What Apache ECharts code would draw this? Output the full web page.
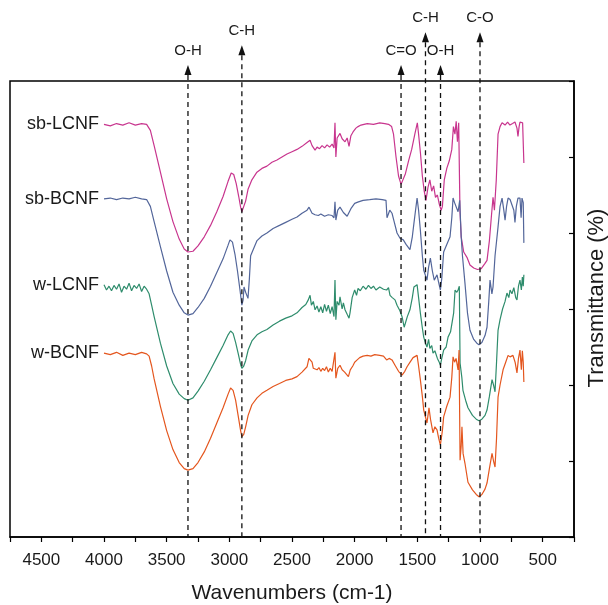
<!DOCTYPE html>
<html><head><meta charset="utf-8">
<script src="https://cdn.jsdelivr.net/npm/echarts@6/dist/echarts.min.js"></script>
<style>html,body{margin:0;padding:0;background:#fff}#c{width:608px;height:605px}</style>
</head><body><div id="c"></div>
<script>
// ---- data ----
const seriesNames = ['sb-LCNF', 'sb-BCNF', 'w-LCNF', 'w-BCNF'];
const seriesColors = ['#c8358e', '#53669a', '#2e8c6c', '#e4561e'];

const sbLCNF = [[4000,5.43],[3950,5.41],[3900,5.44],[3850,5.42],[3800,5.45],[3750,5.42],[3700,5.44],[3660,5.43],[3630,5.35],[3600,5.15],[3550,4.8],[3500,4.45],[3450,4.15],[3400,3.92],[3360,3.79],[3330,3.75],[3290,3.76],[3250,3.83],[3200,3.95],[3150,4.1],[3100,4.28],[3050,4.48],[3010,4.68],[2985,4.79],[2965,4.77],[2945,4.65],[2925,4.48],[2910,4.34],[2900,4.28],[2885,4.3],[2870,4.42],[2850,4.58],[2820,4.7],[2780,4.8],[2740,4.85],[2700,4.88],[2660,4.93],[2620,4.96],[2580,5.0],[2540,5.04],[2500,5.07],[2460,5.1],[2420,5.14],[2380,5.19],[2356,5.22],[2340,5.15],[2316,5.09],[2300,5.13],[2280,5.11],[2260,5.15],[2240,5.12],[2220,5.16],[2200,5.13],[2180,5.17],[2165,5.12],[2157,5.45],[2150,5.0],[2140,5.25],[2117,5.31],[2100,5.24],[2077,5.2],[2060,5.25],[2045,5.14],[2030,5.28],[2013,5.33],[1990,5.38],[1973,5.4],[1950,5.42],[1900,5.44],[1850,5.43],[1800,5.45],[1760,5.44],[1730,5.43],[1705,5.4],[1690,5.3],[1670,5.0],[1650,4.75],[1630,4.64],[1615,4.65],[1595,4.78],[1570,4.95],[1545,5.1],[1520,5.3],[1500,5.45],[1490,5.3],[1475,5.05],[1460,4.75],[1445,4.55],[1431,4.43],[1415,4.6],[1400,4.7],[1385,4.55],[1370,4.62],[1355,4.47],[1340,4.5],[1325,4.38],[1310,4.3],[1300,4.35],[1285,4.7],[1265,4.85],[1245,4.95],[1225,5.1],[1212,5.4],[1200,5.3],[1190,5.47],[1180,5.2],[1170,5.45],[1160,4.3],[1150,3.95],[1130,3.75],[1104,3.68],[1080,3.58],[1050,3.54],[1020,3.52],[1008,3.51],[990,3.53],[960,3.6],[944,3.64],[925,3.9],[910,4.2],[896,4.47],[885,4.3],[870,4.7],[856,5.3],[840,5.4],[824,5.45],[800,5.42],[780,5.46],[761,5.42],[740,5.44],[721,5.46],[705,5.38],[697,5.27],[688,5.4],[681,5.46],[670,5.44],[660,5.45],[650,4.92]];

const sbBCNF = [[4000,4.45],[3950,4.46],[3900,4.44],[3850,4.46],[3800,4.45],[3750,4.47],[3700,4.45],[3660,4.44],[3630,4.35],[3600,4.15],[3550,3.82],[3500,3.5],[3450,3.22],[3400,3.05],[3360,2.95],[3330,2.92],[3290,2.94],[3250,3.02],[3200,3.14],[3150,3.3],[3100,3.48],[3050,3.66],[3010,3.84],[2995,3.91],[2975,3.88],[2955,3.72],[2935,3.5],[2915,3.25],[2900,3.05],[2890,3.12],[2883,3.29],[2870,3.22],[2851,3.14],[2840,3.4],[2830,3.7],[2800,3.82],[2779,3.9],[2740,3.96],[2700,4.0],[2651,4.06],[2600,4.1],[2550,4.14],[2500,4.18],[2460,4.21],[2420,4.26],[2380,4.3],[2364,4.34],[2340,4.26],[2316,4.24],[2290,4.23],[2270,4.25],[2240,4.22],[2210,4.24],[2180,4.23],[2165,4.2],[2157,4.41],[2150,4.17],[2135,4.3],[2117,4.34],[2090,4.27],[2060,4.22],[2050,4.2],[2030,4.32],[2000,4.39],[1970,4.41],[1933,4.43],[1880,4.44],[1830,4.45],[1780,4.44],[1750,4.43],[1742,4.2],[1720,4.3],[1702,4.26],[1685,4.15],[1662,4.0],[1638,3.93],[1612,3.91],[1590,3.85],[1559,3.78],[1540,3.95],[1527,4.13],[1502,4.46],[1490,4.3],[1476,4.04],[1460,3.7],[1449,3.51],[1423,3.38],[1410,3.55],[1396,3.67],[1380,3.5],[1365,3.38],[1343,3.45],[1330,3.35],[1316,3.25],[1305,3.4],[1290,3.75],[1265,3.85],[1239,3.95],[1225,4.2],[1215,4.46],[1203,4.4],[1191,4.39],[1175,4.28],[1162,4.43],[1150,3.95],[1140,3.7],[1120,3.34],[1100,2.95],[1080,2.72],[1050,2.6],[1025,2.55],[1008,2.53],[985,2.56],[960,2.65],[944,2.76],[930,3.1],[920,3.38],[905,3.2],[896,3.29],[880,3.7],[856,4.08],[840,4.35],[824,4.46],[810,4.3],[800,4.17],[788,4.35],[776,4.46],[760,4.44],[745,4.42],[730,4.3],[721,4.14],[710,4.35],[697,4.46],[681,4.46],[672,4.2],[665,4.46],[655,4.4],[650,3.87]];

const wLCNF = [[4000,3.32],[3980,3.25],[3960,3.3],[3940,3.24],[3920,3.31],[3900,3.26],[3880,3.33],[3860,3.22],[3840,3.3],[3820,3.26],[3800,3.34],[3780,3.24],[3760,3.31],[3740,3.27],[3720,3.33],[3700,3.23],[3680,3.3],[3660,3.26],[3640,3.2],[3620,3.05],[3600,2.9],[3550,2.55],[3500,2.25],[3450,2.02],[3400,1.88],[3360,1.82],[3330,1.8],[3290,1.83],[3250,1.92],[3200,2.05],[3150,2.2],[3100,2.36],[3050,2.52],[3010,2.66],[2990,2.71],[2970,2.68],[2950,2.56],[2930,2.42],[2910,2.27],[2900,2.22],[2885,2.25],[2870,2.32],[2850,2.46],[2820,2.58],[2779,2.66],[2740,2.7],[2700,2.73],[2651,2.79],[2600,2.84],[2550,2.88],[2500,2.91],[2460,2.95],[2420,3.02],[2390,3.06],[2370,3.12],[2356,3.18],[2345,3.05],[2330,3.1],[2316,2.99],[2300,3.04],[2285,2.96],[2270,3.03],[2255,2.95],[2240,3.06],[2225,2.97],[2210,3.05],[2195,2.94],[2180,3.03],[2165,2.9],[2157,3.38],[2150,2.86],[2140,3.1],[2125,3.05],[2117,3.16],[2100,3.0],[2090,3.08],[2077,2.99],[2060,2.93],[2045,2.88],[2037,2.95],[2020,3.15],[2000,3.25],[1985,3.18],[1973,3.27],[1955,3.24],[1933,3.3],[1910,3.26],[1890,3.31],[1870,3.27],[1850,3.3],[1830,3.25],[1800,3.29],[1770,3.26],[1745,3.25],[1730,3.28],[1718,3.18],[1700,3.15],[1678,3.12],[1662,3.05],[1640,2.98],[1622,2.9],[1605,2.76],[1598,2.75],[1580,2.9],[1559,2.99],[1540,3.15],[1527,3.29],[1502,3.32],[1490,3.15],[1476,2.95],[1460,2.75],[1449,2.63],[1435,2.55],[1423,2.5],[1410,2.6],[1400,2.48],[1385,2.52],[1375,2.42],[1360,2.45],[1340,2.35],[1325,2.3],[1316,2.26],[1305,2.35],[1290,2.46],[1270,2.5],[1255,2.63],[1235,2.7],[1223,2.72],[1210,2.95],[1199,3.25],[1185,3.22],[1175,3.25],[1165,3.3],[1159,2.29],[1145,2.1],[1136,1.93],[1115,1.8],[1096,1.7],[1060,1.6],[1030,1.55],[1008,1.53],[985,1.55],[960,1.6],[944,1.67],[925,1.85],[904,2.07],[892,2.0],[880,1.91],[868,2.3],[856,2.72],[840,2.86],[820,3.0],[800,3.1],[785,3.21],[770,3.15],[760,3.25],[745,3.2],[730,3.28],[715,3.15],[705,3.12],[693,3.3],[681,3.38],[670,3.25],[662,3.42],[655,3.3],[650,3.45]];

const wBCNF = [[4000,2.42],[3950,2.4],[3900,2.43],[3850,2.39],[3800,2.42],[3750,2.4],[3700,2.43],[3660,2.41],[3640,2.38],[3620,2.25],[3600,2.08],[3550,1.72],[3500,1.4],[3450,1.15],[3400,0.98],[3360,0.9],[3330,0.88],[3290,0.9],[3250,0.98],[3200,1.12],[3150,1.3],[3100,1.5],[3050,1.7],[3010,1.88],[2990,1.96],[2970,1.93],[2950,1.8],[2930,1.6],[2910,1.4],[2900,1.32],[2885,1.35],[2870,1.45],[2850,1.6],[2820,1.74],[2779,1.83],[2740,1.89],[2700,1.93],[2651,1.98],[2600,2.02],[2550,2.06],[2500,2.08],[2460,2.11],[2420,2.17],[2380,2.24],[2365,2.35],[2356,2.33],[2340,2.3],[2330,2.22],[2316,2.22],[2300,2.2],[2285,2.23],[2270,2.18],[2255,2.22],[2240,2.19],[2225,2.24],[2210,2.17],[2195,2.22],[2180,2.18],[2165,2.2],[2157,2.43],[2150,2.09],[2135,2.22],[2117,2.26],[2100,2.2],[2080,2.17],[2065,2.14],[2050,2.11],[2035,2.2],[2015,2.25],[2000,2.3],[1980,2.33],[1960,2.36],[1933,2.38],[1900,2.39],[1870,2.38],[1840,2.4],[1800,2.39],[1770,2.38],[1745,2.33],[1725,2.35],[1702,2.33],[1678,2.26],[1650,2.18],[1622,2.13],[1600,2.18],[1582,2.24],[1558,2.3],[1534,2.36],[1502,2.39],[1490,2.25],[1476,2.07],[1460,1.85],[1449,1.67],[1423,1.5],[1407,1.7],[1395,1.55],[1375,1.37],[1360,1.45],[1343,1.41],[1330,1.3],[1316,1.21],[1300,1.4],[1290,1.58],[1265,1.72],[1239,1.84],[1225,2.1],[1215,2.37],[1203,2.3],[1191,2.35],[1175,2.2],[1167,2.46],[1159,1.01],[1150,1.2],[1144,1.45],[1135,1.1],[1120,0.97],[1096,0.72],[1060,0.62],[1030,0.56],[1008,0.53],[985,0.56],[960,0.63],[944,0.71],[925,0.9],[904,1.1],[892,1.0],[880,0.92],[868,1.3],[856,1.84],[840,2.0],[816,2.2],[795,2.3],[776,2.39],[760,2.37],[737,2.39],[720,2.3],[705,2.16],[693,2.35],[681,2.46],[670,2.2],[662,2.45],[655,2.3],[650,2.04]];

const seriesData = [sbLCNF, sbBCNF, wLCNF, wBCNF];

// band annotations: wavenumber, arrow tip (transmittance units), label
const annotX = [3330, 2900, 1630, 1435, 1315, 1000];
const annotTip = [6.21, 6.47, 6.21, 6.64, 6.21, 6.64];
const annotLabel = ['O-H', 'C-H', 'C=O', 'C-H', 'O-H', 'C-O'];

// axis
const xMin = 250, xMax = 4750, xStep = 250;
const yMin = 0, yMax = 6, yStep = 1;

// ---- chart ----
const FONT = 'Liberation Sans, Arial, sans-serif';
const chart = echarts.init(document.getElementById('c'), null, {renderer: 'canvas'});

const lineSeries = seriesData.map((d, i) => ({
  type: 'line',
  name: seriesNames[i],
  data: d,
  showSymbol: false,
  symbol: 'none',
  smooth: false,
  lineStyle: {color: seriesColors[i], width: 1.2},
  itemStyle: {color: seriesColors[i]},
  z: 3,
  silent: true,
  markPoint: {
    symbol: 'circle', symbolSize: 0, silent: true,
    label: {show: true, position: 'left', distance: 5, color: '#1a1a1a', fontSize: 18, fontFamily: FONT, formatter: seriesNames[i]},
    data: [{coord: [d[0][0], d[0][1]]}]
  }
}));

const annotSeries = {
  type: 'custom',
  clip: false,
  silent: true,
  z: 5,
  data: annotX.map((x, i) => [x, annotTip[i], i]),
  renderItem: function (params, api) {
    const x = api.value(0), tip = api.value(1), idx = api.value(2);
    const pT = api.coord([x, tip]);
    const pB = api.coord([x, yMin]);
    const ah = 10, aw = 3.5;
    return {
      type: 'group',
      children: [
        {type: 'line', shape: {x1: pT[0], y1: pT[1] + ah, x2: pB[0], y2: pB[1]},
         style: {stroke: '#111', lineWidth: 1.3, lineDash: [5, 4]}},
        {type: 'polygon', shape: {points: [[pT[0], pT[1]], [pT[0] - aw, pT[1] + ah], [pT[0] + aw, pT[1] + ah]]},
         style: {fill: '#111'}},
        {type: 'text', x: pT[0], y: pT[1] - 7,
         style: {text: annotLabel[idx], textAlign: 'center', textVerticalAlign: 'bottom', fontSize: 15, fontFamily: FONT, fill: '#1a1a1a'}}
      ]
    };
  }
};

chart.setOption({
  backgroundColor: '#fff',
  animation: false,
  grid: {left: 10, right: 34, top: 81, bottom: 68, containLabel: false, outerBoundsMode: 'none',
         show: true, borderColor: '#000', borderWidth: 1.5, backgroundColor: 'transparent'},
  xAxis: {
    type: 'value', min: xMin, max: xMax, interval: xStep, inverse: true,
    name: 'Wavenumbers (cm-1)', nameLocation: 'middle', nameGap: 46,
    nameTextStyle: {fontSize: 21, fontFamily: FONT, color: '#1a1a1a', verticalAlign: 'top'},
    axisLine: {show: true, onZero: false, lineStyle: {color: '#000', width: 1.5}},
    axisTick: {show: true, inside: false, length: 5, lineStyle: {color: '#000', width: 1.2}},
    axisLabel: {fontSize: 17, fontFamily: FONT, color: '#1a1a1a', margin: 15,
      formatter: v => (v % 500 === 0 ? String(v) : '')},
    splitLine: {show: false}
  },
  yAxis: {
    type: 'value', min: yMin, max: yMax, interval: yStep, position: 'right',
    name: 'Transmittance (%)', nameLocation: 'middle', nameGap: 12, nameRotate: 90,
    nameTextStyle: {fontSize: 22, fontFamily: FONT, color: '#1a1a1a', padding: [0, 0, 0, 22]},
    axisLine: {show: true, lineStyle: {color: '#000', width: 1.5}},
    axisTick: {show: true, inside: true, length: 5, lineStyle: {color: '#000', width: 1.2}},
    axisLabel: {show: false},
    splitLine: {show: false}
  },
  series: [...lineSeries, annotSeries]
});
</script>
</body></html>
